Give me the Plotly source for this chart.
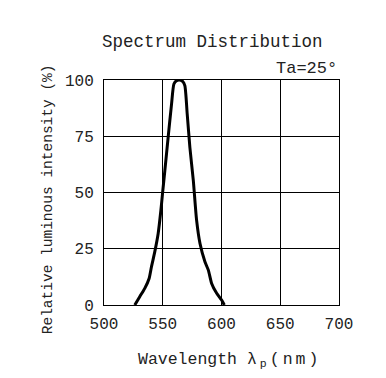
import plotly.graph_objects as go

wavelength = [526.2, 530.4, 534.7, 538.4, 540.4, 543.2, 546.1, 548.4, 549.8, 551.8, 554.6, 557.5,
              559.5, 561.7, 564.0, 566.9, 568.8, 570.8, 573.1, 576.0, 578.8, 581.7, 585.9, 588.8,
              591.6, 595.9, 600.1, 602.4]
intensity = [0, 3.7, 7.4, 11.8, 17, 23.6, 31.8, 42, 49.5, 59.8, 74.6, 89.4,
             98.2, 99.7, 100, 99.4, 97.5, 85, 70, 55.4, 37.7, 27.3, 19.2, 15.5,
             9.6, 5.2, 2.2, 0]
x_ticks = [500, 550, 600, 650, 700]
y_ticks = [0, 25, 50, 75, 100]

FONT = "Liberation Mono"
TXT = "#222222"
fig = go.Figure()
fig.add_trace(go.Scatter(x=wavelength, y=intensity, mode="lines",
                         line=dict(color="black", width=3, shape="spline", smoothing=0.6),
                         showlegend=False, hoverinfo="skip"))

axis_common = dict(showline=True, mirror=True, linecolor="black", linewidth=1,
                   showgrid=True, gridcolor="black", gridwidth=1, zeroline=False,
                   ticks="", tickfont=dict(family=FONT, size=16, color=TXT))
fig.update_xaxes(range=[500, 700], tickvals=x_ticks, ticktext=[str(v) for v in x_ticks],
                 ticklabelstandoff=4, **axis_common)
fig.update_yaxes(range=[0, 100], tickvals=y_ticks, ticktext=[str(v) for v in y_ticks],
                 ticklabelstandoff=6, **axis_common)

# page body has an 8px margin, so the figure is drawn 8px in and 8px down
fig.update_layout(
    width=378, height=370,
    margin=dict(l=96, r=47, t=72, b=73),
    paper_bgcolor="white", plot_bgcolor="white",
    font=dict(family=FONT, color=TXT),
    annotations=[
        dict(text="Spectrum Distribution", xref="paper", yref="paper", x=0.46, y=1,
             yshift=38, showarrow=False, font=dict(family=FONT, size=17.5, color=TXT),
             xanchor="center", yanchor="middle"),
        dict(text="Ta=25°", xref="paper", yref="paper", x=1, y=1, yshift=12,
             showarrow=False, font=dict(family=FONT, size=17, color=TXT),
             xanchor="right", yanchor="middle"),
        dict(text='Wavelength <span style="letter-spacing:3px">λ<sub>p</sub>(nm)</span>',
             xref="paper", yref="paper", x=0.535, y=0,
             yshift=-55, showarrow=False, font=dict(family=FONT, size=16.5, color=TXT),
             xanchor="center", yanchor="middle"),
        dict(text="Relative luminous intensity (%)", xref="paper", yref="paper", x=0, y=0.47,
             xshift=-56, showarrow=False, textangle=-90,
             font=dict(family=FONT, size=14.5, color=TXT),
             xanchor="center", yanchor="middle"),
    ],
)
fig.write_html("out.html")
